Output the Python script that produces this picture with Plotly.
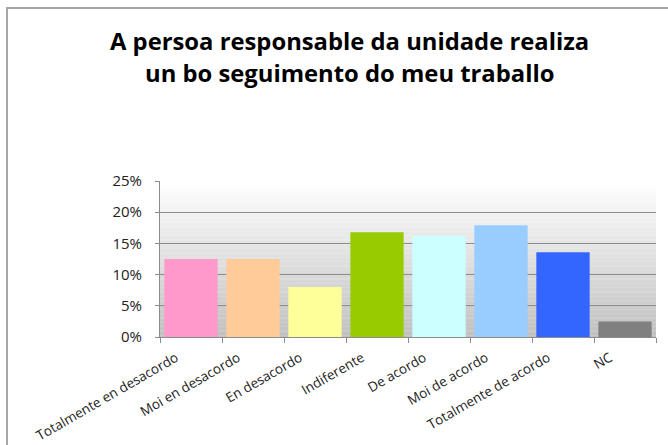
import plotly.graph_objects as go

categories = ["Totalmente en desacordo", "Moi en desacordo", "En desacordo", "Indiferente",
              "De acordo", "Moi de acordo", "Totalmente de acordo", "NC"]
values = [0.125, 0.125, 0.08, 0.168, 0.162, 0.179, 0.136, 0.025]
bar_colors = ["#FF99CC", "#FFCC99", "#FFFF99", "#99CC00", "#CCFFFF", "#99CCFF", "#3366FF", "#808080"]
y_ticks = [0, 0.05, 0.10, 0.15, 0.20, 0.25]
y_labels = ["0%", "5%", "10%", "15%", "20%", "25%"]
title_lines = ["A persoa responsable da unidade realiza", "un bo seguimento do meu traballo"]

W, H = 668, 445
L, R, T, B = 160, 12, 181, 108
pw, ph = W - L - R, H - T - B

fig = go.Figure()
fig.add_trace(go.Bar(
    x=categories,
    y=values,
    marker_color=bar_colors,
    marker_line_width=0,
))

# plot area gradient, white at top to grey at bottom
shapes = []
n = 120
for i in range(n):
    t = i / (n - 1)
    c = int(round(255 - (255 - 192) * (1 - t)))
    shapes.append(dict(type="rect", xref="x domain", yref="y domain",
                       x0=0, x1=1, y0=i / n, y1=(i + 1) / n + 0.002,
                       fillcolor=f"rgb({c},{c},{c})", line_width=0, layer="below"))

def px_x(p):
    return (p - L) / pw

def px_y(p):
    return (H - B - p) / ph

# chart border (partly outside the view)
shapes.append(dict(type="rect", xref="paper", yref="paper",
                   x0=px_x(7), x1=px_x(760), y0=px_y(520), y1=px_y(8),
                   line=dict(color="#a6a6a6", width=2), fillcolor="rgba(0,0,0,0)", layer="above"))

# title as two lines
annotations = []
for line, cy in zip(title_lines, [41, 73]):
    annotations.append(dict(text=f"<b>{line}</b>", xref="paper", yref="paper",
                             x=px_x(349), y=px_y(cy), xanchor="center", yanchor="middle",
                             showarrow=False,
                             font=dict(size=23.8, family="Open Sans", color="black")))

fig.update_layout(
    width=W, height=H,
    margin=dict(l=L, r=R, t=T, b=B, autoexpand=False),
    paper_bgcolor="white",
    plot_bgcolor="white",
    showlegend=False,
    bargap=0.14,
    shapes=shapes,
    annotations=annotations,
    font=dict(family="Open Sans", size=12, color="#222222"),
    xaxis=dict(
        type="category",
        tickangle=-30,
        tickson="boundaries",
        ticks="outside", ticklen=5, tickcolor="#8c8c8c",
        ticklabelshift=-15,
        ticklabelstandoff=7,
        showline=True, linecolor="#8c8c8c", linewidth=1,
        showgrid=False,
        automargin=False,
        tickfont=dict(size=13.5, family="Open Sans", color="#222222"),
    ),
    yaxis=dict(
        range=[0, 0.25],
        tickvals=y_ticks, ticktext=y_labels,
        showgrid=True, gridcolor="#8c8c8c", gridwidth=1,
        showline=True, linecolor="#8c8c8c", linewidth=1,
        ticks="outside", ticklen=4, tickcolor="#8c8c8c",
        ticklabelstandoff=10,
        zeroline=False,
        automargin=False,
        tickfont=dict(size=15, family="Open Sans", color="#222222"),
    ),
)

# page body has a default margin; remove it so the figure sits at the window origin
fig.write_html("out.html", config={"displayModeBar": False},
               post_script="document.body.style.margin='0';document.body.style.overflow='hidden';")
